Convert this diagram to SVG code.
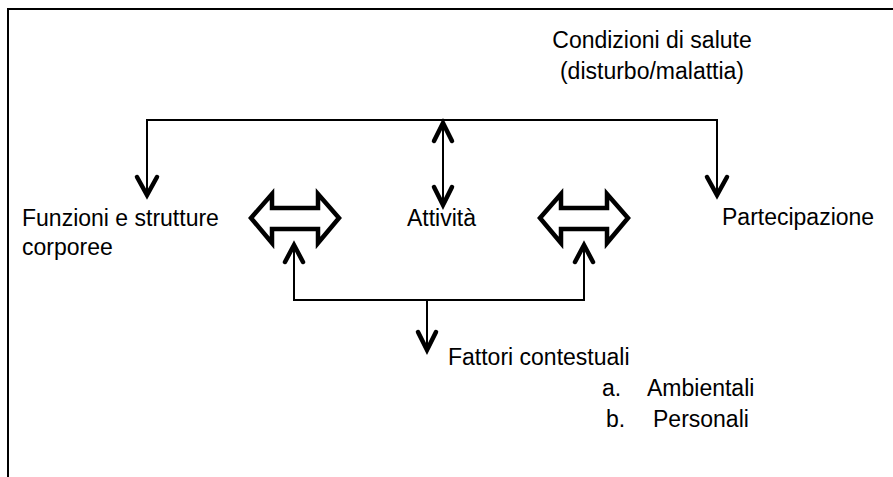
<svg xmlns="http://www.w3.org/2000/svg" width="893" height="477" viewBox="0 0 893 477">
<style>
text{font-family:"Liberation Sans",Arial,sans-serif;font-size:23px;fill:#000}
.ln{fill:none;stroke:#000;stroke-width:2}
.hd{fill:none;stroke:#000;stroke-width:4.5;stroke-linejoin:miter;stroke-linecap:round}
.blk{fill:#fff;stroke:#000;stroke-width:4.5;stroke-linejoin:miter}
</style>
<rect width="893" height="477" fill="#fff"/>
<path class="ln" d="M8,477 L8,9 L893,9"/>
<g id="condizioni"><text x="652" y="48" text-anchor="middle">Condizioni di salute</text><text x="652" y="79" text-anchor="middle">(disturbo/malattia)</text></g>
<g id="funzioni"><text x="22" y="226">Funzioni e strutture</text><text x="22" y="255">corporee</text></g>
<g id="attivita"><text x="407" y="226">Attività</text></g>
<g id="partecipazione"><text x="722" y="225">Partecipazione</text></g>
<g id="fattori"><text x="448" y="365">Fattori contestuali</text><text x="602" y="396">a.</text><text x="647" y="396">Ambientali</text><text x="606" y="427">b.</text><text x="653" y="427">Personali</text></g>
<g id="connectors">
<path class="ln" d="M147,194 L147,120 L717,120 L717,194"/>
<polyline class="hd" points="137,177 147,195 157,177"/>
<polyline class="hd" points="707,177 717,195 727,177"/>
<path class="ln" d="M443,122 L443,205"/>
<polyline class="hd" points="434,141 443,123 452,141"/>
<polyline class="hd" points="434,187 443,205 452,187"/>
<path class="ln" d="M294,246 L294,300 L584,300 L584,246"/>
<polyline class="hd" points="285,262 294,245 303,262"/>
<polyline class="hd" points="575,262 584,245 593,262"/>
<path class="ln" d="M427,300 L427,349"/>
<polyline class="hd" points="418,332 427,350 436,332"/>
<path class="blk" d="M251,218 L272,194 L272,208 L318,208 L318,194 L339,218 L318,243 L318,229 L272,229 L272,243 Z"/>
<path class="blk" d="M540,218 L561,194 L561,208 L607,208 L607,194 L628,218 L607,243 L607,229 L561,229 L561,243 Z"/>
</g>
</svg>
